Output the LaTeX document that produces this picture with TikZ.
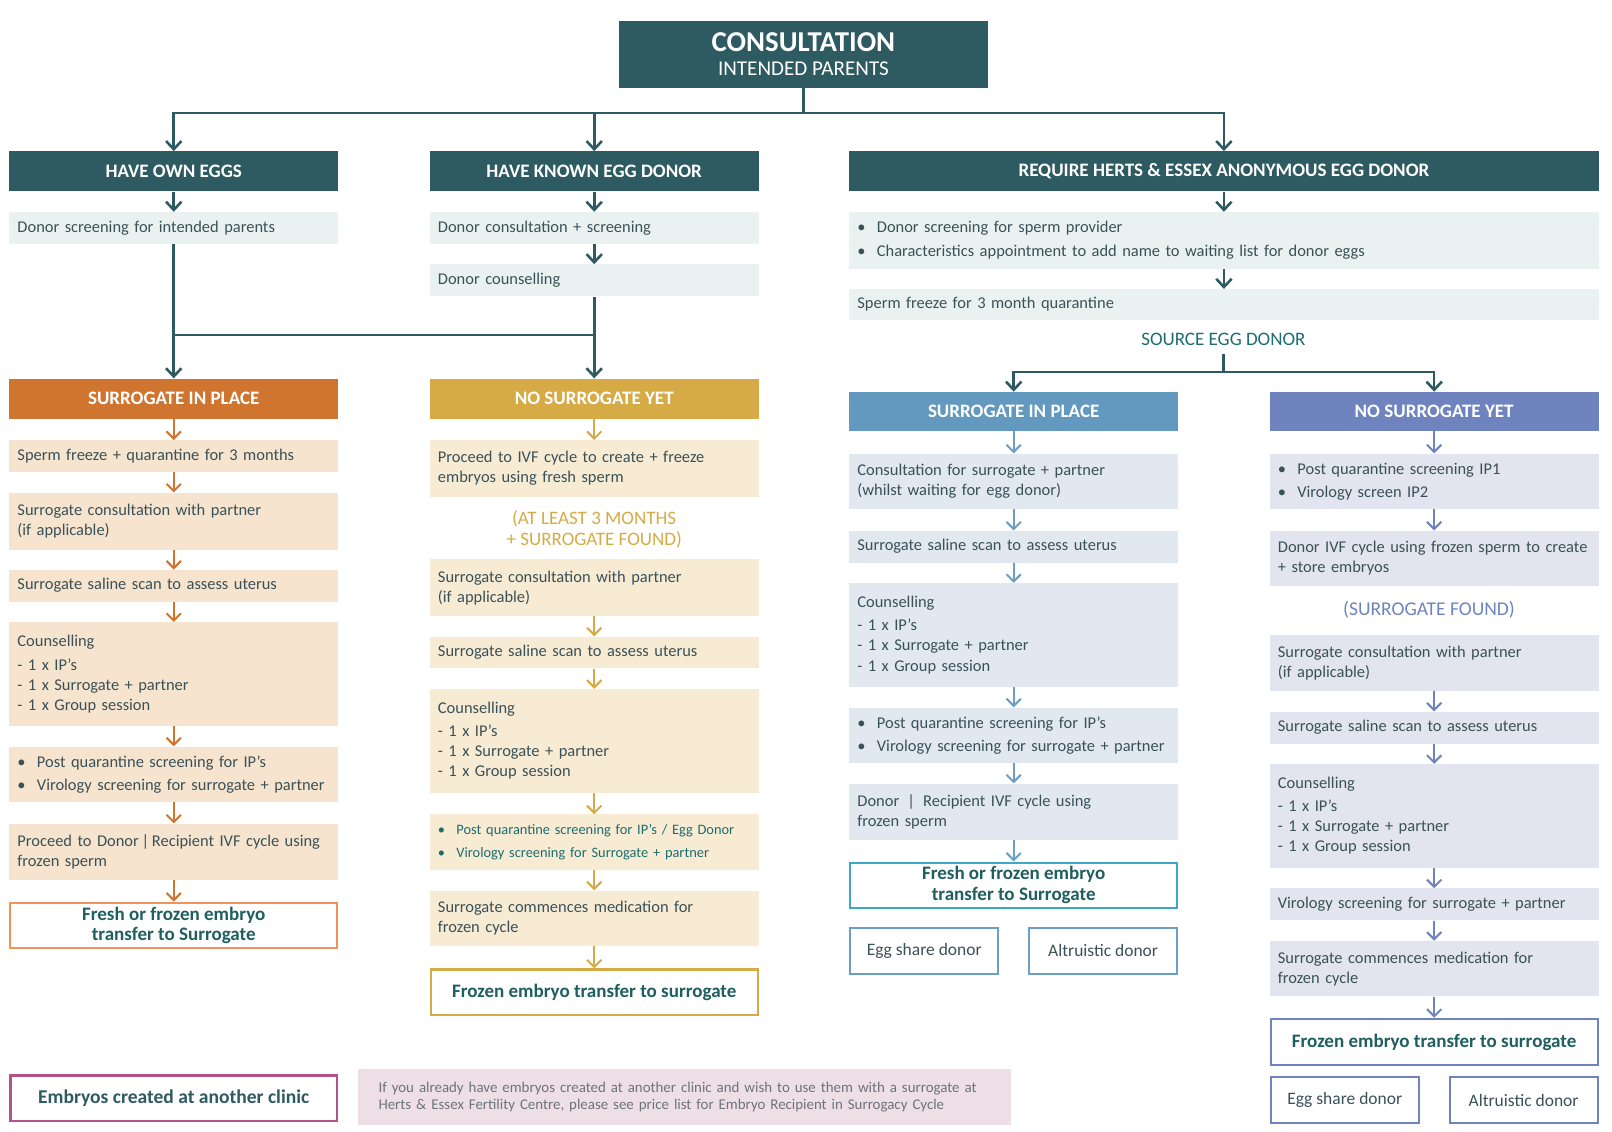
\documentclass[tikz,border=0pt]{standalone}
\usepackage{fontspec}
\setmainfont{Carlito}
\usetikzlibrary{arrows.meta}
\definecolor{hd}{HTML}{2E5A61}
\definecolor{tx}{HTML}{3A5157}
\definecolor{lt}{HTML}{EAF2F1}
\definecolor{orC}{HTML}{D0752F}
\definecolor{orF}{HTML}{F6E4CF}
\definecolor{orB}{HTML}{F0935B}
\definecolor{gdC}{HTML}{D6AB46}
\definecolor{gdF}{HTML}{F7EBD4}
\definecolor{blC}{HTML}{6399BE}
\definecolor{blF}{HTML}{E1E8F0}
\definecolor{blA}{HTML}{6C9FC8}
\definecolor{cyB}{HTML}{3BA9C6}
\definecolor{puC}{HTML}{6F84BF}
\definecolor{puF}{HTML}{E2E4F0}
\definecolor{mgB}{HTML}{B4528C}
\definecolor{pkF}{HTML}{EEDFE7}
\definecolor{fin}{HTML}{1F5F60}
\definecolor{srcC}{HTML}{1D6D6E}
\definecolor{gy}{HTML}{6C7478}

\begin{document}
\begin{tikzpicture}[x=1pt,y=-1pt,
every node/.style={font=\fontsize{16}{19.5}\selectfont,text=tx},
hdr/.style={anchor=north,fill=hd,text=white,font=\bfseries\fontsize{18.5}{20}\selectfont,minimum width=320pt,minimum height=39pt,inner sep=0pt},
stp/.style={anchor=north,text width=304pt,align=left,inner xsep=8pt,inner ysep=0pt},
lbox/.style={stp,fill=lt},
obox/.style={stp,fill=orF},
gbox/.style={stp,fill=gdF},
bbox/.style={stp,fill=blF},
pbox/.style={stp,fill=puF},
finbox/.style={anchor=north,fill=white,line width=2pt,minimum width=318pt,minimum height=44pt,align=center,text=fin,font=\bfseries\fontsize{18.5}{20}\selectfont},
optbox/.style={anchor=north,fill=white,line width=2pt,minimum width=144pt,minimum height=44pt,font=\fontsize{17}{20}\selectfont},
ln/.style={draw=hd,line width=2.5pt},
arr/.style={ln,-{Straight Barb[length=8pt,width=15pt]}},
arrO/.style={draw=orC,line width=2pt,-{Straight Barb[length=7pt,width=14pt]}},
arrG/.style={draw=gdC,line width=2pt,-{Straight Barb[length=7pt,width=14pt]}},
arrB/.style={draw=blA,line width=2pt,-{Straight Barb[length=7pt,width=14pt]}},
arrP/.style={draw=puC,line width=2pt,-{Straight Barb[length=7pt,width=14pt]}}]
\useasboundingbox (0,0) rectangle (1568,1101);

\node[hdr,minimum width=359pt,minimum height=65pt,align=center] (top) at (781.5,20) {\fontsize{28}{26}\selectfont CONSULTATION\\[3pt]\mdseries\fontsize{20.5}{24}\selectfont INTENDED PARENTS};
\coordinate (tj) at (781.5,110);
\node[hdr] (h1) at (169,147) {HAVE OWN EGGS};
\node[hdr] (h2) at (578,147) {HAVE KNOWN EGG DONOR};
\node[hdr,minimum width=729pt] (h3) at (1190.5,147) {REQUIRE HERTS \& ESSEX ANONYMOUS EGG DONOR};
\draw[ln] (top) -- (tj);
\draw[arr] (tj) -| (h1);
\draw[arr] (tj) -| (h2);
\draw[arr] (tj) -| (h3);

\node[lbox,minimum height=31pt] (o0) at (169,206) {Donor screening for intended parents};
\node[lbox,minimum height=31pt] (k1) at (578,206) {Donor consultation + screening};
\node[lbox,minimum height=31pt] (k2) at (578,257) {Donor counselling};
\node[lbox,text width=713pt,minimum height=55pt] (a1) at (1190.5,206) {\textbullet\hspace{11pt}Donor screening for sperm provider\\[3pt]\textbullet\hspace{11pt}Characteristics appointment to add name to waiting list for donor eggs};
\node[lbox,text width=713pt,minimum height=30pt] (a2) at (1190.5,281) {Sperm freeze for 3 month quarantine};
\node[text=srcC,font=\fontsize{18.5}{20}\selectfont,inner ysep=8pt] (src) at (1190,330) {SOURCE EGG DONOR};
\coordinate (sj) at (1190,362);
\coordinate (mj) at (373,326);
\draw[arr] (h1) -- (o0);
\draw[arr] (h2) -- (k1);
\draw[arr] (k1) -- (k2);
\draw[arr] (h3) -- (a1);
\draw[arr] (a1) -- (a2);

\node[hdr,fill=orC] (sipA) at (169,368) {SURROGATE IN PLACE};
\node[hdr,fill=gdC] (nsyA) at (578,368) {NO SURROGATE YET};
\node[hdr,fill=blC,minimum height=38pt] (sipB) at (986,381) {SURROGATE IN PLACE};
\node[hdr,fill=puC,minimum height=38pt] (nsyB) at (1395,381) {NO SURROGATE YET};
\draw[arr] (o0) -- (sipA);
\draw[arr] (k2) -- (nsyA);
\draw[ln] (o0.south |- mj) -- (k2.south |- mj);
\draw[ln] (src) -- (sj);
\draw[arr] (sj) -| (sipB);
\draw[arr] (sj) -| (nsyB);

\node[obox,minimum height=31pt] (o1) at (169,428) {Sperm freeze + quarantine for 3 months};
\node[obox,minimum height=56pt] (o2) at (169,479) {Surrogate consultation with partner\\(if applicable)};
\node[obox,minimum height=31pt] (o3) at (169,554) {Surrogate saline scan to assess uterus};
\node[obox,minimum height=101pt] (o4) at (169,605) {Counselling\\[3pt]- 1 x IP’s\\- 1 x Surrogate + partner\\- 1 x Group session};
\node[obox,minimum height=54pt] (o5) at (169,726) {\textbullet\hspace{11pt}Post quarantine screening for IP’s\\[3pt]\textbullet\hspace{11pt}Virology screening for surrogate + partner};
\node[obox,minimum height=55pt] (o6) at (169,801) {Proceed to Donor\,|\,Recipient IVF cycle using\\frozen sperm};
\node[finbox,draw=orB] (o7) at (169,877) {Fresh or frozen embryo\\transfer to Surrogate};
\draw[arrO] (sipA) -- (o1);
\draw[arrO] (o1) -- (o2);
\draw[arrO] (o2) -- (o3);
\draw[arrO] (o3) -- (o4);
\draw[arrO] (o4) -- (o5);
\draw[arrO] (o5) -- (o6);
\draw[arrO] (o6) -- (o7);

\node[gbox,minimum height=55pt] (g1) at (578,428) {Proceed to IVF cycle to create + freeze\\embryos using fresh sperm};
\node[text=gdC,align=center,font=\fontsize{18.5}{21}\selectfont] (gnote) at (578,515) {(AT LEAST 3 MONTHS\\+ SURROGATE FOUND)};
\node[gbox,minimum height=55pt] (g2) at (578,544) {Surrogate consultation with partner\\(if applicable)};
\node[gbox,minimum height=31pt] (g3) at (578,619) {Surrogate saline scan to assess uterus};
\node[gbox,minimum height=101pt] (g4) at (578,670) {Counselling\\[3pt]- 1 x IP’s\\- 1 x Surrogate + partner\\- 1 x Group session};
\node[gbox,minimum height=54pt,text=srcC,font=\fontsize{14}{19.5}\selectfont] (g5) at (578,792) {\textbullet\hspace{11pt}Post quarantine screening for IP’s / Egg Donor\\[3pt]\textbullet\hspace{11pt}Virology screening for Surrogate + partner};
\node[gbox,minimum height=54pt] (g6) at (578,866) {Surrogate commences medication for\\frozen cycle};
\node[finbox,draw=gdC] (g7) at (578,942) {Frozen embryo transfer to surrogate};
\draw[arrG] (nsyA) -- (g1);
\draw[arrG] (g2) -- (g3);
\draw[arrG] (g3) -- (g4);
\draw[arrG] (g4) -- (g5);
\draw[arrG] (g5) -- (g6);
\draw[arrG] (g6) -- (g7);

\node[bbox,minimum height=54pt] (b1) at (986,441) {Consultation for surrogate + partner\\(whilst waiting for egg donor)};
\node[bbox,minimum height=31pt] (b2) at (986,516) {Surrogate saline scan to assess uterus};
\node[bbox,minimum height=101pt] (b3) at (986,567) {Counselling\\[3pt]- 1 x IP’s\\- 1 x Surrogate + partner\\- 1 x Group session};
\node[bbox,minimum height=54pt] (b4) at (986,688) {\textbullet\hspace{11pt}Post quarantine screening for IP’s\\[3pt]\textbullet\hspace{11pt}Virology screening for surrogate + partner};
\node[bbox,minimum height=55pt] (b5) at (986,762) {Donor \,|\, Recipient IVF cycle using\\frozen sperm};
\node[finbox,draw=cyB] (b6) at (986,838) {Fresh or frozen embryo\\transfer to Surrogate};
\node[optbox,draw=blA] (b7) at (899,902) {Egg share donor};
\node[optbox,draw=blA] (b8) at (1073,902) {Altruistic donor};
\draw[arrB] (sipB) -- (b1);
\draw[arrB] (b1) -- (b2);
\draw[arrB] (b2) -- (b3);
\draw[arrB] (b3) -- (b4);
\draw[arrB] (b4) -- (b5);
\draw[arrB] (b5) -- (b6);

\node[pbox,minimum height=54pt] (p1) at (1395,441) {\textbullet\hspace{11pt}Post quarantine screening IP1\\[3pt]\textbullet\hspace{11pt}Virology screen IP2};
\node[pbox,minimum height=54pt] (p2) at (1395,516) {Donor IVF cycle using frozen sperm to create\\+ store embryos};
\node[text=puC,font=\fontsize{19}{20}\selectfont] (pnote) at (1390,593) {(SURROGATE FOUND)};
\node[pbox,minimum height=55pt] (p3) at (1395,617) {Surrogate consultation with partner\\(if applicable)};
\node[pbox,minimum height=31pt] (p4) at (1395,692) {Surrogate saline scan to assess uterus};
\node[pbox,minimum height=101pt] (p5) at (1395,743) {Counselling\\[3pt]- 1 x IP’s\\- 1 x Surrogate + partner\\- 1 x Group session};
\node[pbox,minimum height=31pt] (p6) at (1395,864) {Virology screening for surrogate + partner};
\node[pbox,minimum height=54pt] (p7) at (1395,915) {Surrogate commences medication for\\frozen cycle};
\node[finbox,draw=puC,minimum height=45pt] (p8) at (1395,990) {Frozen embryo transfer to surrogate};
\node[optbox,draw=puC] (p9) at (1308,1047) {Egg share donor};
\node[optbox,draw=puC] (p10) at (1482,1047) {Altruistic donor};
\draw[arrP] (nsyB) -- (p1);
\draw[arrP] (p1) -- (p2);
\draw[arrP] (p3) -- (p4);
\draw[arrP] (p4) -- (p5);
\draw[arrP] (p5) -- (p6);
\draw[arrP] (p6) -- (p7);
\draw[arrP] (p7) -- (p8);

\node[finbox,draw=mgB,line width=2.5pt,text=hd,font=\bfseries\fontsize{19}{20}\selectfont] (emb) at (169,1045) {Embryos created at another clinic};
\node[anchor=north west,fill=pkF,text=gy,text width=595pt,inner xsep=20pt,inner ysep=0pt,minimum height=54pt,align=left,font=\fontsize{14.5}{17}\selectfont] (info) at (348,1040) {If you already have embryos created at another clinic and wish to use them with a surrogate at\\Herts \& Essex Fertility Centre, please see price list for Embryo Recipient in Surrogacy Cycle};
\end{tikzpicture}
\end{document}
